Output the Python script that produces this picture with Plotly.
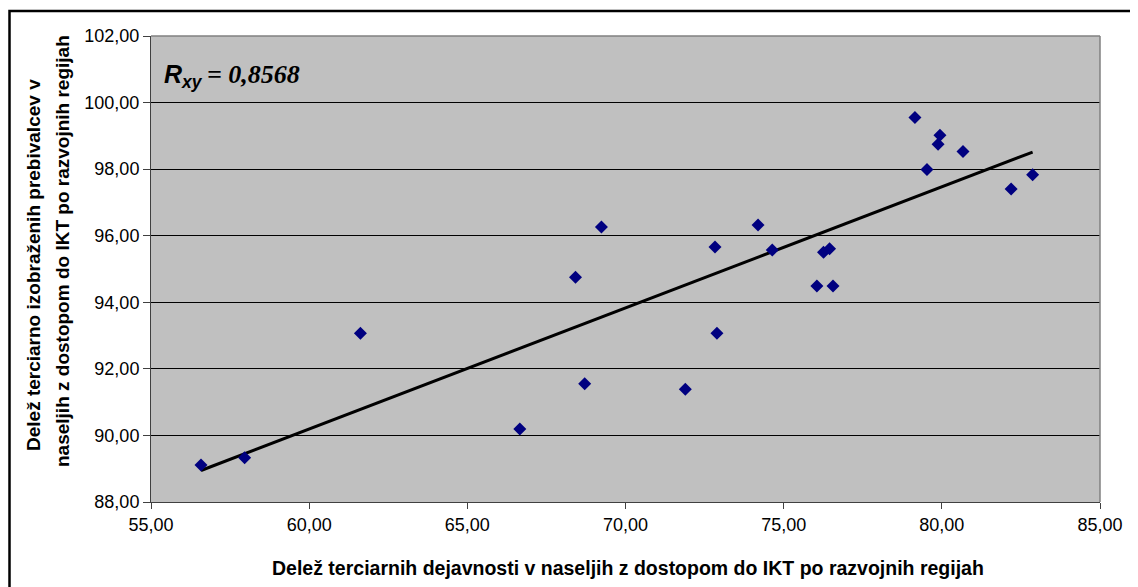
import numpy as np
import plotly.graph_objects as go

# Data
x_vals = [56.58, 57.96, 61.62, 66.66, 68.42, 68.71, 69.24, 71.89, 72.83, 72.89,
          74.19, 74.64, 76.05, 76.26, 76.45, 76.56, 79.15, 79.53, 79.88, 79.94,
          80.67, 82.19, 82.87]
y_vals = [89.11, 89.33, 93.07, 90.19, 94.75, 91.55, 96.26, 91.39, 95.66, 93.07,
          96.32, 95.57, 94.49, 95.50, 95.61, 94.49, 99.55, 97.99, 98.75, 99.02,
          98.53, 97.40, 97.83]

x_title = "Delež terciarnih dejavnosti v naseljih z dostopom do IKT po razvojnih regijah"
y_title_1 = "Delež terciarno izobraženih prebivalcev v"
y_title_2 = "naseljih z dostopom do IKT po razvojnih regijah"
r_label = "= 0,8568"

# Linear trend line from the data
slope, intercept = np.polyfit(x_vals, y_vals, 1)
tx = [min(x_vals), max(x_vals)]
ty = [slope * v + intercept for v in tx]

fig = go.Figure()
fig.add_trace(go.Scatter(x=tx, y=ty, mode="lines",
                         line=dict(color="black", width=3), hoverinfo="skip",
                         showlegend=False))
fig.add_trace(go.Scatter(x=x_vals, y=y_vals, mode="markers",
                         marker=dict(symbol="diamond", size=10, color="#000080",
                                     line=dict(width=0)),
                         showlegend=False))

OFF = 8  # page body margin
W, H = 1138 - OFF, 587 - OFF
L, R, T, B = 151 - OFF, 38, 36 - OFF, 85
pw, ph = W - L - R, H - T - B


def px(sx):
    # screen x -> paper x
    return (sx - OFF - L) / pw


def py(sy):
    # screen y -> paper y
    return (H - B - (sy - OFF)) / ph


SANS = "Liberation Sans, Arial, sans-serif"
SERIF = "Liberation Serif, Times New Roman, serif"

fig.update_layout(
    width=W, height=H,
    margin=dict(l=L, r=R, t=T, b=B),
    paper_bgcolor="white",
    plot_bgcolor="#C0C0C0",
    separators=", ",
    font=dict(family=SANS, color="black"),
    xaxis=dict(range=[55, 85], dtick=5, tickformat=".2f", showgrid=False,
               zeroline=False, showline=True, linecolor="#404040", linewidth=1,
               ticks="outside", ticklen=6, tickcolor="#404040",
               tickfont=dict(size=18)),
    yaxis=dict(range=[88, 102], dtick=2, tickformat=".2f", showgrid=True,
               gridcolor="black", gridwidth=1, zeroline=False,
               showline=True, linecolor="#404040", linewidth=1,
               ticks="outside", ticklen=7, tickcolor="#404040",
               tickfont=dict(size=18)),
    shapes=[
        dict(type="line", xref="paper", yref="paper", x0=0, x1=1, y0=1, y1=1,
             line=dict(color="#808080", width=1.5)),
        dict(type="line", xref="paper", yref="paper", x0=1, x1=1, y0=0, y1=1,
             line=dict(color="#808080", width=1.5)),
        dict(type="rect", xref="paper", yref="paper",
             x0=px(9.5), x1=px(1150), y0=py(600), y1=py(11),
             line=dict(color="black", width=2.5), fillcolor="rgba(0,0,0,0)"),
    ],
    annotations=[
        dict(xref="paper", yref="paper", x=px(628), y=py(568), xanchor="center",
             yanchor="middle", showarrow=False, text="<b>" + x_title + "</b>",
             font=dict(size=19.5, family=SANS)),
        dict(xref="paper", yref="paper", x=px(33), y=py(265), xanchor="center",
             yanchor="middle", showarrow=False, textangle=-90,
             text="<b>" + y_title_1 + "</b>", font=dict(size=19, family=SANS)),
        dict(xref="paper", yref="paper", x=px(62), y=py(251), xanchor="center",
             yanchor="middle", showarrow=False, textangle=-90,
             text="<b>" + y_title_2 + "</b>", font=dict(size=19, family=SANS)),
        dict(xref="paper", yref="paper", x=px(162), y=py(76), xanchor="left",
             yanchor="middle", showarrow=False,
             text="<b><i>R<sub>xy</sub></i></b>",
             font=dict(size=25, family=SANS)),
        dict(xref="paper", yref="paper", x=px(205), y=py(74), xanchor="left",
             yanchor="middle", showarrow=False,
             text="<b><i>" + r_label + "</i></b>",
             font=dict(size=26, family=SERIF)),
    ],
)

fig.write_html("out.html")
